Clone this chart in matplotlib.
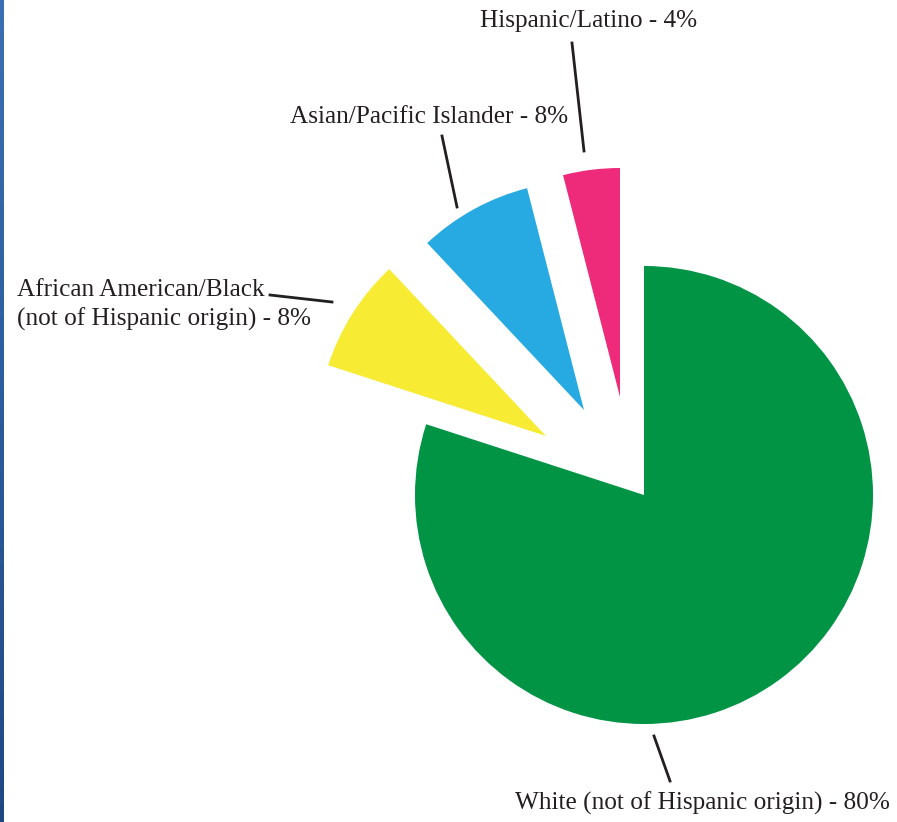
import matplotlib.pyplot as plt
import numpy as np
from matplotlib.colors import LinearSegmentedColormap

# data
groups = ['White (not of Hispanic origin)', 'African American/Black\n(not of Hispanic origin)',
          'Asian/Pacific Islander', 'Hispanic/Latino']
shares = [80, 8, 8, 4]
colors = ['#009444', '#f7ec33', '#27aae1', '#ee2a7b']

W, H = 897, 822
fig = plt.figure(figsize=(W / 100, H / 100), dpi=100)
ax = fig.add_axes([0, 0, 1, 1])

cx, cy = 644, H - 495  # pie centre in pixels (y up)
wedges, _ = ax.pie(shares, colors=colors, startangle=90, counterclock=False,
                   radius=229, center=(cx, cy),
                   wedgeprops=dict(linewidth=0))

# slices were pulled out by hand in the original, not exactly radially
offsets = [(0, 0), (-98, 59), (-60, 85), (-24, 98)]
for w, (dx, dy) in zip(wedges, offsets):
    w.set_center((cx + dx, cy + dy))

ax.set_xlim(0, W)
ax.set_ylim(0, H)
ax.set_aspect('auto')
ax.axis('off')

txt = dict(family='Liberation Serif', fontsize=18.2, color='#231f20')
labels = [f'{g} - {s}%' for g, s in zip(groups, shares)]
ax.text(515, H - 810, labels[0], ha='left', va='baseline', **txt)
ax.text(17, H - 326, labels[1], ha='left', va='baseline', linespacing=1.38, **txt)
ax.text(290, H - 123, labels[2], ha='left', va='baseline', **txt)
ax.text(480, H - 27, labels[3], ha='left', va='baseline', **txt)

# leader lines
leaders = [((270, 295), (332, 302)), ((442, 136), (457, 207)),
           ((572, 43), (584, 151)), ((654, 736), (670, 781))]
for (x0, y0), (x1, y1) in leaders:
    ax.plot([x0, x1], [H - y0, H - y1], color='#231f20', lw=2)

# blue strip on the left edge
strip = fig.add_axes([0, 0, 4 / W, 1])
grad = np.linspace(0, 1, 256).reshape(-1, 1)
cmap = LinearSegmentedColormap.from_list('strip', ['#3b6fb3', '#1f4883'])
strip.imshow(grad, aspect='auto', cmap=cmap)
strip.axis('off')

fig.savefig('out.png', dpi=100)
